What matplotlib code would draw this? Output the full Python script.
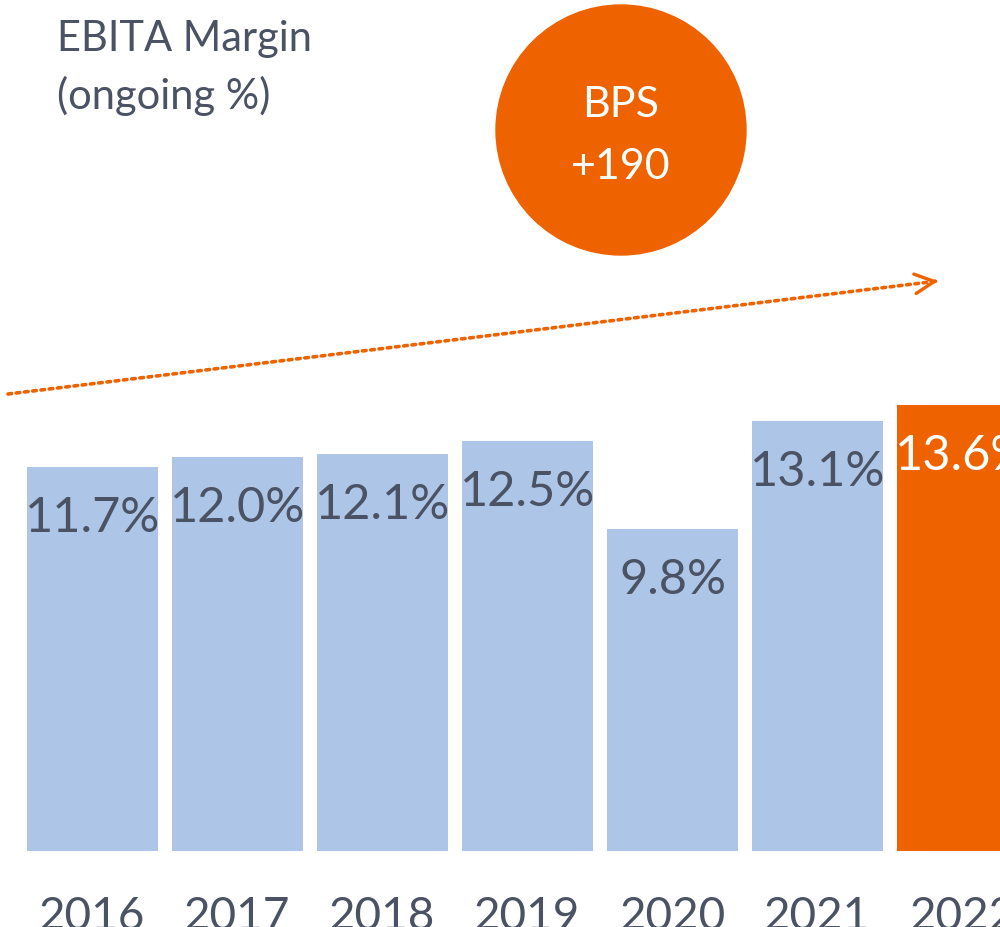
import matplotlib
matplotlib.use("Agg")
import matplotlib.pyplot as plt
from matplotlib.patches import Circle

years = ["2016", "2017", "2018", "2019", "2020", "2021", "2022"]
margins = [11.7, 12.0, 12.1, 12.5, 9.8, 13.1, 13.6]
labels = ["11.7%", "12.0%", "12.1%", "12.5%", "9.8%", "13.1%", "13.6%"]
title_text = "EBITA Margin\n(ongoing %)"
badge_text = "BPS\n+190"

BLUE = "#adc5e7"
ORANGE = "#ee6200"
TEXT = "#4a5263"
FONT = ["Lato", "DejaVu Sans"]

fig = plt.figure(figsize=(10, 9.28), dpi=100)
ax = fig.add_axes([0, 0, 1, 1])
ax.set_axis_off()

pxu = 32.82
ax.set_xlim(-92.5 / 145, (1000 - 92.5) / 145)
ax.set_ylim(-76 / pxu, 852 / pxu)

colors = [BLUE] * 6 + [ORANGE]
xs = list(range(len(years)))
ax.bar(xs, margins, width=131 / 145, color=colors)

for i, (v, lab) in enumerate(zip(margins, labels)):
    ax.annotate(lab, xy=(i, v), xytext=(0, -50), textcoords="offset pixels",
                ha="center", va="center", fontsize=35, family=FONT,
                color="white" if i == 6 else TEXT)
    ax.text(i, -44 / pxu, years[i], ha="center", va="top", fontsize=33,
            family=FONT, color=TEXT)

fig.text(57 / 1000, 1 - 20 / 928, title_text, ha="left", va="top",
         fontsize=30, family=FONT, color=TEXT, linespacing=1.55)

circ = Circle((6.21, 9.28 - 1.31), 1.25, transform=fig.dpi_scale_trans,
              color=ORANGE)
fig.add_artist(circ)
fig.text(621 / 1000, 1 - 136 / 928, badge_text, ha="center", va="center",
         fontsize=31, family=FONT, color="white", linespacing=1.75)

# dotted shaft
start = (8, 928 - 395)
end = (938, 928 - 282)
ax.annotate("", xy=end, xytext=start,
            xycoords="figure pixels", textcoords="figure pixels",
            arrowprops=dict(arrowstyle="-", color=ORANGE, lw=2.6,
                            linestyle=(0, (1, 1.3)), shrinkA=0, shrinkB=0))
# solid open head
dx, dy = end[0] - start[0], end[1] - start[1]
L = (dx ** 2 + dy ** 2) ** 0.5
back = (end[0] - 3 * dx / L, end[1] - 3 * dy / L)
ax.annotate("", xy=end, xytext=back,
            xycoords="figure pixels", textcoords="figure pixels",
            arrowprops=dict(arrowstyle="->,head_length=1.4,head_width=0.7",
                            color=ORANGE, lw=2.4, shrinkA=0, shrinkB=0))

fig.savefig("out.png", dpi=100)
